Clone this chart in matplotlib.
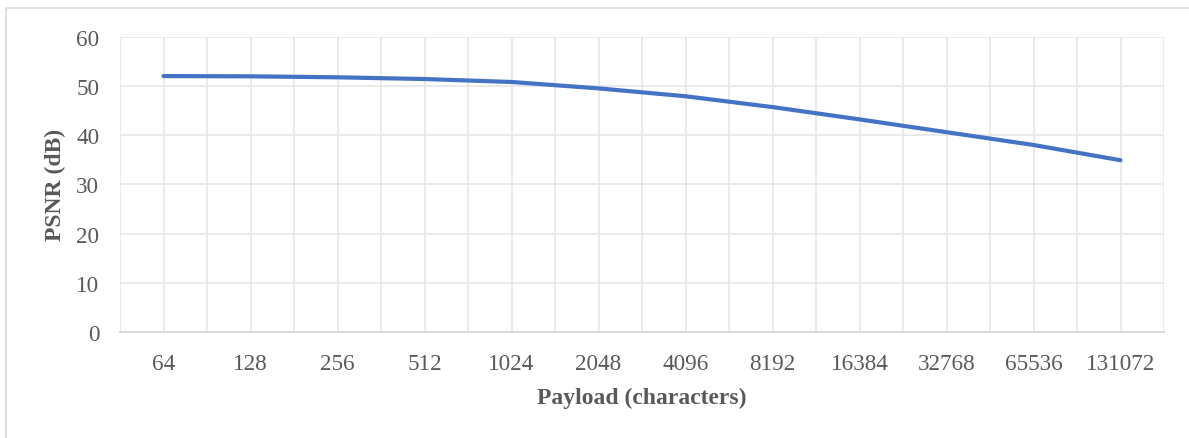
import matplotlib
matplotlib.use("Agg")
import matplotlib.pyplot as plt
from matplotlib.patches import Rectangle
from matplotlib.ticker import MultipleLocator

categories = ["64", "128", "256", "512", "1024", "2048", "4096", "8192",
              "16384", "32768", "65536", "131072"]
psnr = [52.0, 51.95, 51.75, 51.4, 50.8, 49.5, 47.9, 45.7, 43.2, 40.6, 38.0, 34.9]
y_ticks = [0, 10, 20, 30, 40, 50, 60]

plt.rcParams['font.family'] = ['Liberation Serif', 'DejaVu Serif']

W, H = 1189, 439
fig = plt.figure(figsize=(W / 100, H / 100), dpi=100)
fig.patches.append(Rectangle((6 / W, -0.05), 1.2, 1 - 8.5 / H + 0.05,
                             transform=fig.transFigure, fill=False,
                             edgecolor="#d9d9d9", linewidth=1.2))

left, right, top, bottom = 120, 1164, 37.7, 333
ax = fig.add_axes([left / W, 1 - bottom / H, (right - left) / W, (bottom - top) / H])

x = list(range(len(categories)))
ax.plot(x, psnr, color="#4472c4", linewidth=3.0, solid_capstyle="round",
        solid_joinstyle="round", zorder=3)

ax.set_xlim(-0.5, len(categories) - 0.5)
ax.set_ylim(0, 60)
ax.set_yticks(y_ticks)
ax.set_xticks(x)
ax.set_xticklabels(categories)
ax.xaxis.set_minor_locator(MultipleLocator(0.5))

ax.grid(True, which="major", axis="y", color="#e6e6e6", linewidth=1.2)
ax.grid(True, which="both", axis="x", color="#e6e6e6", linewidth=1.2)
ax.set_axisbelow(True)

for s in ["top", "right", "left"]:
    ax.spines[s].set_visible(False)
ax.spines["bottom"].set_color("#d9d9d9")
ax.spines["bottom"].set_linewidth(1.4)

ax.tick_params(axis="both", which="both", length=0, labelsize=16.7,
               labelcolor="#595959")
ax.tick_params(axis="x", pad=15)
ax.tick_params(axis="y", pad=15)

ax.set_xlabel("Payload (characters)", fontsize=17, fontweight="bold",
              color="#595959", labelpad=9)
ax.set_ylabel("PSNR (dB)", fontsize=17, fontweight="bold",
              color="#595959", labelpad=7)

fig.savefig("out.png", dpi=100)
